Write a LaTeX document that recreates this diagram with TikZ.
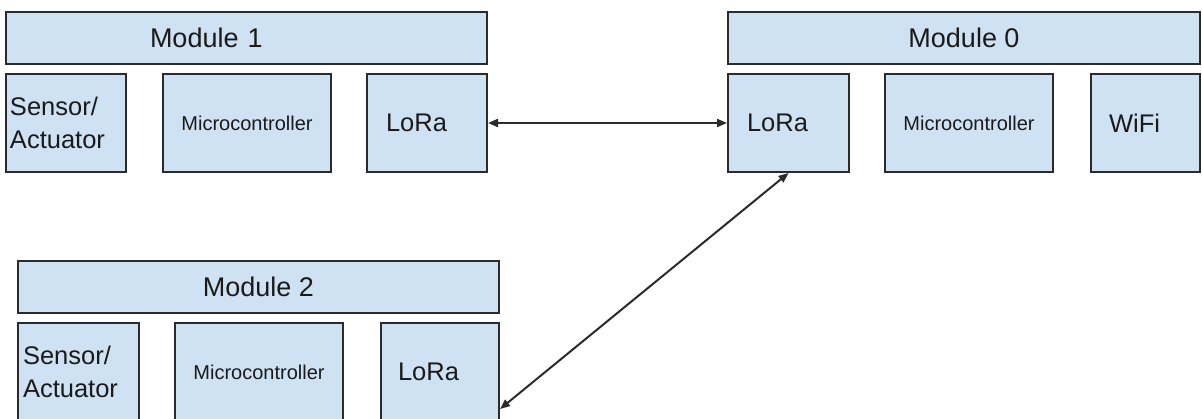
\documentclass[tikz,border=0pt]{standalone}
\usepackage{fontspec}
\setmainfont{Liberation Sans}
\usepackage{xcolor}
\usepackage{tikz}
\usetikzlibrary{
  arrows.meta,
  positioning,
  calc
}
\definecolor{mdFill}{HTML}{CFE2F3}
\definecolor{mdEdge}{HTML}{2B2B2B}
\definecolor{mdText}{HTML}{1A1A1A}
\tikzset{
  part/.style={
    draw=mdEdge, fill=mdFill, line width=1pt, inner sep=0pt,
    minimum height=49pt, text=mdText, align=center,
    font=\fontsize{12.75}{16.5}\selectfont
  },
  headsize/.style={minimum height=26pt, font=\fontsize{13.5}{16}\selectfont},
  header/.style={part, headsize},
  mcu/.style={part, minimum width=84pt, font=\fontsize{10}{12}\selectfont},
  leftpart/.style 2 args={part, text width=#1, inner xsep=#2, align=left},
  radio/.style={<->, >={Triangle[length=5pt, width=4pt]}, line width=1pt, mdEdge}
}

\begin{document}
\begin{tikzpicture}[x=0.5pt, y=-0.5pt]
  \useasboundingbox (0,0) rectangle (1202,418);
  % module 1
  \node[leftpart={96.5pt}{72pt}, headsize] (m1head) at (246.5,38) {Module 1};
  \node[leftpart={56pt}{2pt}] (m1sens) at (66,123) {Sensor/\\Actuator};
  \node[mcu] (m1mcu) at (247,123) {Microcontroller};
  \node[leftpart={41pt}{9.5pt}] (m1lora) at (427,123) {LoRa};
  % module 0
  \node[header, minimum width=236pt] (m0head) at (964,38) {Module 0};
  \node[leftpart={41.5pt}{9.5pt}] (m0lora) at (788.5,123) {LoRa};
  \node[mcu] (m0mcu) at (969,123) {Microcontroller};
  \node[leftpart={36.5pt}{9pt}] (m0wifi) at (1145.5,123) {WiFi};
  % module 2
  \node[header, minimum width=240.5pt] (m2head) at (258.5,287) {Module 2};
  \node[leftpart={55.5pt}{2.5pt}] (m2sens) at (78.5,372) {Sensor/\\Actuator};
  \node[mcu] (m2mcu) at (259,372) {Microcontroller};
  \node[leftpart={42pt}{8.5pt}] (m2lora) at (440,372) {LoRa};
  \coordinate (m2port) at ([yshift=6.5pt]m2lora.south east);
  \draw[radio] (m1lora.east) -- (m0lora.west);
  \draw[radio] (m0lora.south) -- (m2port);
\end{tikzpicture}
\end{document}
